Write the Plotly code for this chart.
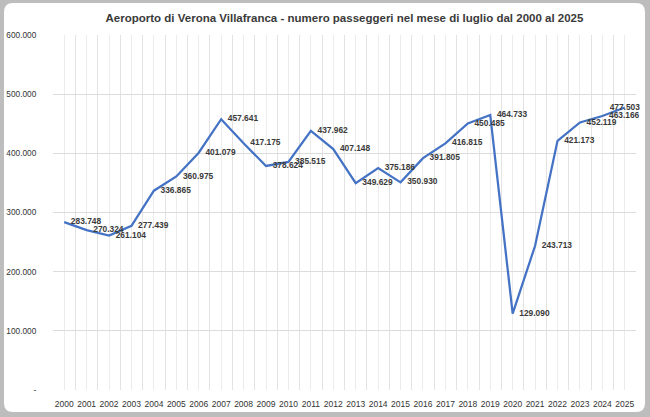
import plotly.graph_objects as go

years = [str(y) for y in range(2000, 2026)]
passengers = [283748, 270324, 261104, 277439, 336865, 360975, 401079, 457641,
              417175, 378624, 385515, 437962, 407148, 349629, 375186, 350930,
              391805, 416815, 450485, 464733, 129090, 243713, 421173, 452119,
              463166, 477503]
y_tickvals = [0, 100000, 200000, 300000, 400000, 500000, 600000]
y_ticktext = ["-", "100.000", "200.000", "300.000", "400.000", "500.000", "600.000"]
title_text = "Aeroporto di Verona Villafranca - numero passeggeri nel mese di luglio dal 2000 al 2025"

labels = [f"{v:,}".replace(",", ".") for v in passengers]
positions = ["middle right"] * (len(passengers) - 1) + ["middle center"]
xnum = [int(y) for y in years]

W, H = 650, 417
L, R, T, B = 53, 636, 35, 390

def px(x):
    return (x - L) / (R - L)

def py(y):
    return (B - y) / (B - T)

# rounded white card
x0, x1, y0, y1, r = 4, 645, 3, 412, 9
path = (
    f"M {px(x0 + r)},{py(y0)} L {px(x1 - r)},{py(y0)} "
    f"Q {px(x1)},{py(y0)} {px(x1)},{py(y0 + r)} "
    f"L {px(x1)},{py(y1 - r)} Q {px(x1)},{py(y1)} {px(x1 - r)},{py(y1)} "
    f"L {px(x0 + r)},{py(y1)} Q {px(x0)},{py(y1)} {px(x0)},{py(y1 - r)} "
    f"L {px(x0)},{py(y0 + r)} Q {px(x0)},{py(y0)} {px(x0 + r)},{py(y0)} Z"
)

font_main = "Liberation Sans, Arial, sans-serif"

fig = go.Figure()
fig.add_trace(go.Scatter(
    x=xnum, y=passengers, mode="lines+markers+text",
    line=dict(color="#4472C4", width=2.25),
    marker=dict(size=9, color="rgba(0,0,0,0)"),
    text=labels, textposition=positions,
    textfont=dict(family=font_main, size=8.4, color="#3a3a3a", weight="bold"),
    hoverinfo="skip", showlegend=False, cliponaxis=False,
))

fig.update_layout(
    width=W, height=H,
    margin=dict(l=L, r=W - R, t=T, b=H - B, pad=0, autoexpand=False),
    paper_bgcolor="#bdbdbd",
    plot_bgcolor="rgba(0,0,0,0)",
    shapes=[dict(type="path", path=path, xref="paper", yref="paper",
                 fillcolor="white", line=dict(width=0), layer="below")],
    title=dict(text=title_text, x=0.5, xref="paper", xanchor="center",
               y=1 - 18 / H, yref="container", yanchor="middle",
               font=dict(family=font_main, size=11.5, color="#3a3a3a", weight="bold")),
    xaxis=dict(
        range=[1999.5, 2025.5], tickvals=xnum, ticktext=years, tickangle=0,
        showgrid=True, gridcolor="#ececec", gridwidth=1,
        minor=dict(tickvals=[y - 0.5 for y in xnum] + [2025.5], showgrid=True,
                   gridcolor="#e3e3e3", gridwidth=1),
        showline=False, zeroline=False, ticks="outside", ticklen=6,
        tickcolor="rgba(0,0,0,0)", automargin=False,
        tickfont=dict(family=font_main, size=8.5, color="#333333"),
        fixedrange=True,
    ),
    yaxis=dict(
        range=[0, 600000], tickvals=y_tickvals, ticktext=y_ticktext,
        showgrid=True, gridcolor="#dcdcdc", gridwidth=1,
        zeroline=False, showline=False, ticks="outside", ticklen=14,
        tickcolor="rgba(0,0,0,0)", automargin=False,
        tickfont=dict(family=font_main, size=8.3, color="#333333"),
        fixedrange=True,
    ),
)

fig.write_html(
    "out.html",
    config={"displayModeBar": False, "staticPlot": True},
    post_script="document.body.style.margin='0';document.body.style.background='#bdbdbd';",
)
